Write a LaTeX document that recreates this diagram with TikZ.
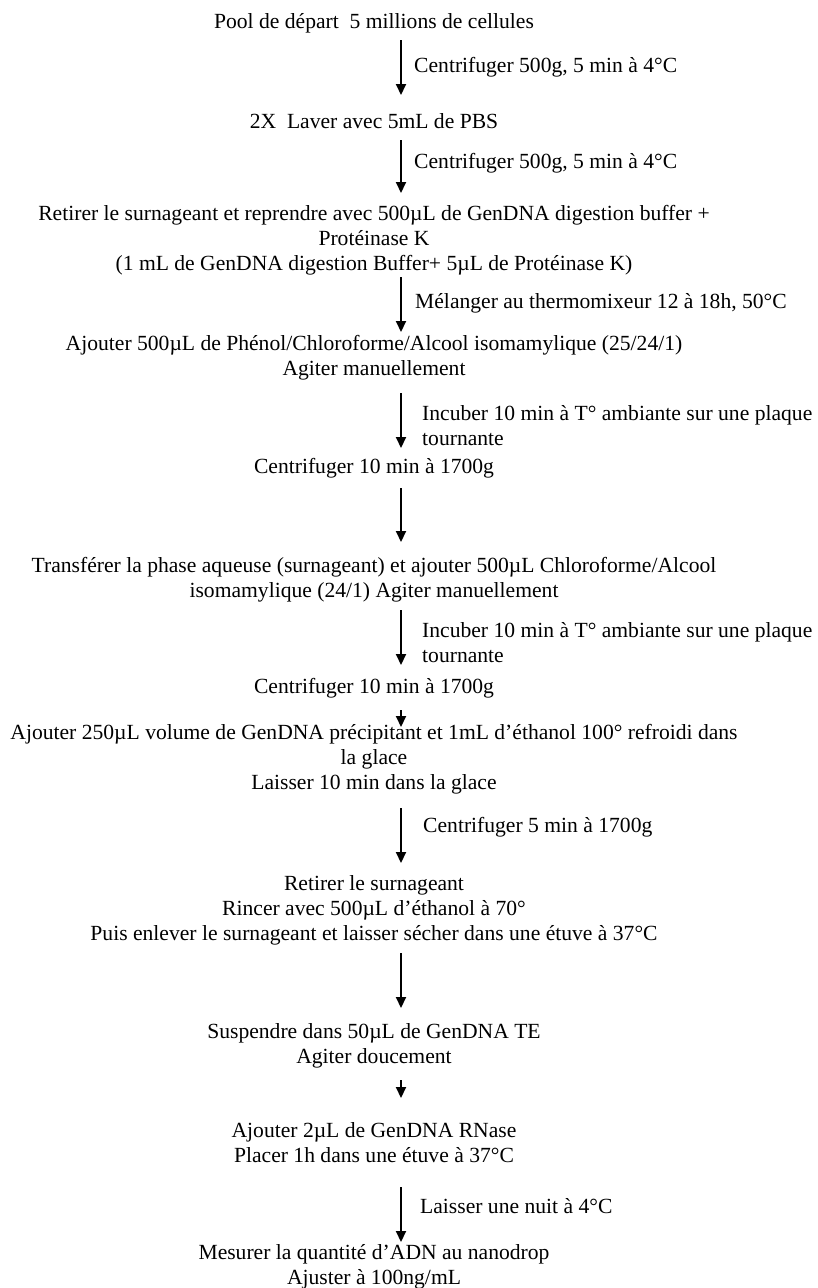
\documentclass[tikz,border=0pt]{standalone}
\usepackage{fontspec}
\setmainfont{Liberation Serif}
\usetikzlibrary{arrows.meta}
\definecolor{Encre}{HTML}{000000}

\begin{document}
\begin{tikzpicture}[x=1pt, y=-1pt,
    etape/.style={align=center, anchor=base, inner sep=0pt, Encre,
      font=\fontsize{21.6}{25}\selectfont},
    consigne/.style={align=left, anchor=base west, inner sep=0pt, Encre,
      font=\fontsize{21.6}{25}\selectfont},
    fleche/.style={Encre, line width=2pt,
      -{Triangle[length=11pt, width=10pt]}}]
  \useasboundingbox (0,0) rectangle (817,1288);
  % Etapes du protocole (y = ligne de base de la derniere ligne)
  \node[etape] (pool) at (374,28) {Pool de départ~~5 millions de cellules};
  \node[etape] (lavage) at (374,128) {2X~~Laver avec 5mL de PBS};
  \node[etape] (digestion) at (374,270) {Retirer le surnageant et reprendre
    avec 500µL de GenDNA digestion buffer +\\Protéinase K\\(1 mL de GenDNA
    digestion Buffer+ 5µL de Protéinase K)};
  \node[etape] (phenol) at (374,375) {Ajouter 500µL de
    Phénol/Chloroforme/Alcool isomamylique (25/24/1)\\Agiter manuellement};
  \node[etape] (centriA) at (374,473) {Centrifuger 10 min à 1700g};
  \node[etape] (transfert) at (374,597) {Transférer la phase aqueuse
    (surnageant) et ajouter 500µL Chloroforme/Alcool\\isomamylique (24/1)
    Agiter manuellement};
  \node[etape] (centriB) at (374,693) {Centrifuger 10 min à 1700g};
  \node[etape] (precip) at (374,789) {Ajouter 250µL volume de GenDNA
    précipitant et 1mL d’éthanol 100° refroidi dans\\la glace\\Laisser 10
    min dans la glace};
  \node[etape] (rincage) at (374,940) {Retirer le surnageant\\Rincer avec
    500µL d’éthanol à 70°\\Puis enlever le surnageant et laisser sécher dans
    une étuve à 37°C};
  \node[etape] (suspension) at (374,1063) {Suspendre dans 50µL de GenDNA
    TE\\Agiter doucement};
  \node[etape] (rnase) at (374,1162) {Ajouter 2µL de GenDNA RNase\\Placer 1h
    dans une étuve à 37°C};
  \node[etape] (mesure) at (374,1284) {Mesurer la quantité d’ADN au
    nanodrop\\Ajuster à 100ng/mL};
  % Bouts des fleches
  \coordinate (f1h) at (401,40);   \coordinate (f1b) at (401,95);
  \coordinate (f2h) at (401,140);  \coordinate (f2b) at (401,193);
  \coordinate (f3h) at (401,277);  \coordinate (f3b) at (401,332);
  \coordinate (f4h) at (401,393);  \coordinate (f4b) at (401,448);
  \coordinate (f5h) at (401,488);  \coordinate (f5b) at (401,542);
  \coordinate (f6h) at (401,610);  \coordinate (f6b) at (401,665);
  \coordinate (f7h) at (401,710);  \coordinate (f7b) at (401,727);
  \coordinate (f8h) at (401,808);  \coordinate (f8b) at (401,863);
  \coordinate (f9h) at (401,953);  \coordinate (f9b) at (401,1008);
  \coordinate (f10h) at (401,1080); \coordinate (f10b) at (401,1098);
  \coordinate (f11h) at (401,1187); \coordinate (f11b) at (401,1242);
  % Fleches
  \draw[fleche] (f1h) -- (f1b);
  \draw[fleche] (f2h) -- (f2b);
  \draw[fleche] (f3h) -- (f3b);
  \draw[fleche] (f4h) -- (f4b);
  \draw[fleche] (f5h) -- (f5b);
  \draw[fleche] (f6h) -- (f6b);
  \draw[fleche] (f7h) -- (f7b);
  \draw[fleche] (f8h) -- (f8b);
  \draw[fleche] (f9h) -- (f9b);
  \draw[fleche] (f10h) -- (f10b);
  \draw[fleche] (f11h) -- (f11b);
  % Consignes
  \node[consigne] (c1) at (414,72) {Centrifuger 500g, 5 min à 4°C};
  \node[consigne] (c2) at (414,168) {Centrifuger 500g, 5 min à 4°C};
  \node[consigne] (c3) at (415,308) {Mélanger au thermomixeur 12 à 18h, 50°C};
  \node[consigne] (c4) at (422,445) {Incuber 10 min à T° ambiante sur une
    plaque\\tournante};
  \node[consigne] (c6) at (422,662) {Incuber 10 min à T° ambiante sur une
    plaque\\tournante};
  \node[consigne] (c8) at (423,832) {Centrifuger 5 min à 1700g};
  \node[consigne] (c11) at (420,1213) {Laisser une nuit à 4°C};
\end{tikzpicture}
\end{document}
